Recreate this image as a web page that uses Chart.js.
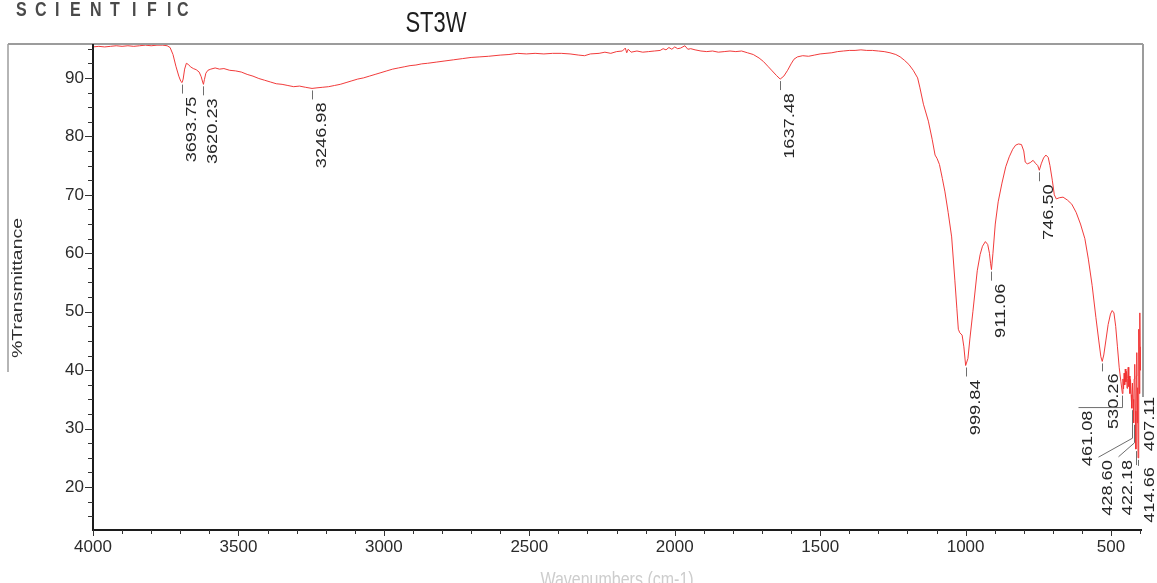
<!DOCTYPE html>
<html>
<head>
<meta charset="utf-8">
<title>ST3W</title>
<script src="https://cdn.jsdelivr.net/npm/chart.js@4.4.1/dist/chart.umd.min.js"></script>
<style>
  html, body { margin: 0; padding: 0; background: #fff; overflow: hidden; }
  canvas { display: block; }
</style>
</head>
<body>
<canvas id="ftir" width="1157" height="583" style="width:1157px;height:583px"></canvas>
<script>
// FTIR spectrum of sample ST3W: wavenumber (cm-1) against % transmittance
const wavenumbers = [
  4000, 3980, 3960, 3940, 3920, 3900, 3880, 3860, 3840, 3820,
  3800, 3780, 3760, 3745, 3735, 3725, 3715, 3705, 3698, 3693.75,
  3690, 3685, 3679, 3672, 3665, 3655, 3645, 3635, 3628, 3623,
  3620.23, 3617, 3612, 3605, 3595, 3580, 3565, 3550, 3530, 3510,
  3490, 3470, 3450, 3430, 3410, 3390, 3370, 3350, 3330, 3310,
  3290, 3270, 3246.98, 3230, 3210, 3190, 3170, 3150, 3130, 3110,
  3090, 3070, 3050, 3030, 3010, 2990, 2970, 2950, 2930, 2910,
  2890, 2870, 2850, 2820, 2790, 2760, 2730, 2700, 2670, 2640,
  2600, 2570, 2540, 2510, 2480, 2450, 2420, 2390, 2360, 2330,
  2310, 2290, 2260, 2240, 2220, 2200, 2180, 2170, 2165, 2160,
  2150, 2130, 2110, 2090, 2070, 2050, 2040, 2030, 2020, 2010,
  2000, 1990, 1980, 1965, 1955, 1945, 1930, 1910, 1890, 1870,
  1850, 1830, 1810, 1790, 1770, 1750, 1730, 1710, 1695, 1680,
  1665, 1650, 1637.48, 1625, 1612, 1600, 1590, 1578, 1560, 1540,
  1520, 1500, 1480, 1460, 1440, 1420, 1400, 1380, 1360, 1340,
  1320, 1300, 1280, 1260, 1240, 1225, 1210, 1195, 1180, 1165,
  1157, 1145, 1128, 1115, 1105, 1098, 1090, 1080, 1071, 1060,
  1048, 1037, 1030, 1025, 1020, 1012, 1006, 999.84, 992, 985,
  975, 960, 950, 942, 932, 924, 918, 914, 911.06, 906,
  898, 888, 875, 862, 850, 838, 828, 818, 808, 800,
  795, 788, 778, 768, 760, 752, 746.5, 740, 732, 724,
  716, 710, 702, 695, 688, 678, 665, 650, 635, 620,
  605, 590, 578, 565, 552, 542, 535, 530.26, 525, 518,
  510, 502, 496, 490, 484, 478, 472, 466, 461.08, 459,
  457, 455, 453, 451, 449, 447, 445, 443, 441, 439,
  437, 435, 433, 431, 428.6, 426.5, 424.5, 422.18, 420.5, 418.5,
  416.5, 414.66, 413, 411.5, 410, 408.5, 407.11, 405.5, 404, 402.5,
  401, 399.5, 398
];

const transmittance = [
  95.3, 95.4, 95.3, 95.4, 95.5, 95.4, 95.5, 95.4, 95.5, 95.6,
  95.5, 95.6, 95.6, 95.5, 95.2, 94.0, 92.0, 90.3, 89.4, 89.2,
  89.8, 91.5, 92.5, 92.3, 91.9, 91.6, 91.4, 91.0, 90.2, 89.3,
  88.9, 89.7, 90.8, 91.3, 91.5, 91.7, 91.5, 91.6, 91.3, 91.2,
  91.0, 90.6, 90.3, 89.9, 89.6, 89.3, 89.0, 88.9, 88.7, 88.5,
  88.6, 88.4, 88.2, 88.3, 88.4, 88.5, 88.7, 88.9, 89.2, 89.5,
  89.8, 90.0, 90.3, 90.6, 90.9, 91.2, 91.5, 91.7, 91.9, 92.1,
  92.2, 92.4, 92.5, 92.7, 92.9, 93.1, 93.3, 93.5, 93.6, 93.7,
  93.9, 94.0, 94.2, 94.1, 94.2, 94.1, 94.2, 94.2, 94.1, 93.9,
  93.8, 94.1, 94.2, 94.4, 94.2, 94.5, 94.6, 95.1, 94.3, 94.9,
  94.4, 94.6, 94.4, 94.5, 94.6, 94.7, 95.0, 94.8, 95.2, 94.9,
  95.3, 95.0, 95.1, 95.5, 94.9, 95.0, 94.8, 94.6, 94.5, 94.6,
  94.4, 94.5, 94.6, 94.5, 94.6, 94.3, 94.0, 93.4, 92.8, 92.0,
  91.2, 90.4, 89.8, 90.3, 91.3, 92.4, 93.2, 93.6, 93.8, 93.7,
  93.9, 94.1, 94.2, 94.3, 94.5, 94.6, 94.7, 94.7, 94.8, 94.7,
  94.7, 94.6, 94.5, 94.3, 94.0, 93.6, 93.0, 92.3, 91.3, 90.0,
  88.3, 85.5, 82.6, 79.5, 76.8, 76.2, 75.2, 72.8, 70.5, 67.0,
  62.8, 55.4, 50.5, 47.0, 46.4, 46.0, 44.0, 40.8, 42.0, 45.5,
  50.0, 57.0, 59.8, 61.2, 62.0, 61.5, 60.0, 58.2, 57.2, 60.0,
  65.0, 68.8, 72.0, 74.8, 76.5, 77.8, 78.5, 78.7, 78.6, 77.5,
  75.6, 75.3, 75.5, 75.9, 75.4, 75.0, 74.2, 75.3, 76.3, 76.8,
  76.4, 75.0, 72.5, 70.0, 69.3, 69.5, 69.6, 69.1, 68.4, 67.0,
  65.0, 62.5, 59.0, 54.5, 49.0, 45.0, 42.3, 41.5, 42.6, 45.0,
  47.8, 49.6, 50.2, 49.8, 47.5, 44.0, 40.5, 38.0, 36.0, 38.5,
  36.8, 39.5, 37.5, 40.2, 38.0, 39.8, 36.9, 38.6, 40.5, 37.2,
  39.0, 36.0, 38.4, 35.8, 33.5, 37.8, 35.0, 31.0, 38.5, 41.0,
  33.0, 26.5, 39.0, 43.0, 31.0, 37.0, 25.0, 42.0, 47.0, 36.0,
  49.8, 40.0, 44.0
];

// Axis tick values
const xTickValues = [4000, 3500, 3000, 2500, 2000, 1500, 1000, 500];
const yTickValues = [20, 30, 40, 50, 60, 70, 80, 90];

// Picked peaks (values must appear in wavenumbers above)
const peakWavenumbers = [3693.75, 3620.23, 3246.98, 1637.48, 999.84, 911.06, 746.50, 530.26, 461.08, 428.60, 422.18, 414.66, 407.11];
const peakLabels = ['3693.75', '3620.23', '3246.98', '1637.48', '999.84', '911.06', '746.50', '530.26', '461.08', '428.60', '422.18', '414.66', '407.11'];

const chartTitle = 'ST3W';
const xAxisTitle = 'Wavenumbers (cm-1)';
const yAxisTitle = '%Transmittance';
const brandText = 'SCIENTIFIC';

// ---- drawing helpers -------------------------------------------------------
const FONT = '"Liberation Sans", Arial, sans-serif';
const STRETCH = 1.3; // printout text is taller than wide

function strokeLine(ctx, pts) {
  ctx.beginPath();
  ctx.moveTo(pts[0][0], pts[0][1]);
  for (let i = 1; i < pts.length; i++) ctx.lineTo(pts[i][0], pts[i][1]);
  ctx.stroke();
}

function tallText(ctx, text, x, y, o) {
  ctx.save();
  ctx.translate(x, y);
  if (o.rotate) { ctx.rotate(-Math.PI / 2); ctx.scale(STRETCH, 1); }
  else { ctx.scale(1, STRETCH); }
  ctx.font = o.font;
  ctx.fillStyle = o.color;
  ctx.textAlign = o.align || 'left';
  ctx.textBaseline = o.baseline || 'alphabetic';
  ctx.fillText(text, 0, 0);
  ctx.restore();
}

// Leader/label placement relative to the peak point, in pixels
const defaultLeader = { path: [[0, 2], [0, 11]], text: [10, 14] };
const leaderLayout = {
  '530.26': { path: [[0, 2], [0, 10]], text: [12, 12] },
  '461.08': { path: [[0, 2], [0, 14], [-44, 14]], text: [-34, 17] },
  '428.60': { path: [[0, 2], [0, 30], [-34, 49]], text: [-24, 52] },
  '422.18': { path: [[0, 2], [0, 20], [-16, 34]], text: [-6, 37] },
  '414.66': { path: [[0, 2], [0, 16]], text: [14, 18] },
  '407.11': { path: [[0, 2], [0, 8]], text: [12, -61] }
};

const decorPlugin = {
  id: 'spectrumDecor',
  beforeDraw(chart) {
    const ctx = chart.ctx;
    ctx.save();
    ctx.fillStyle = '#ffffff';
    ctx.fillRect(0, 0, chart.width, chart.height);
    ctx.restore();
  },
  afterDraw(chart) {
    const { ctx, chartArea: a, scales } = chart;
    const xs = scales.x, ys = scales.y;
    ctx.save();

    // outer frame (grey)
    ctx.strokeStyle = '#9c9c9c';
    ctx.lineWidth = 2;
    strokeLine(ctx, [[8, 44], [a.right + 2, 44]]);
    strokeLine(ctx, [[a.right + 2, 44], [a.right + 2, 397]]);
    ctx.lineWidth = 1.5;
    strokeLine(ctx, [[8, 44], [8, 372]]);

    // axis lines
    ctx.strokeStyle = '#1c1c1c';
    ctx.lineWidth = 2;
    strokeLine(ctx, [[a.left, a.top], [a.left, a.bottom + 1]]);
    strokeLine(ctx, [[a.left - 1, a.bottom], [a.right + 1, a.bottom]]);

    // tick marks: major every 500 / 10, minor every 100 / 2.5
    ctx.lineWidth = 1;
    ctx.strokeStyle = '#333';
    for (let w = 400; w <= 4000; w += 100) {
      const px = Math.round(xs.getPixelForValue(w)) + 0.5;
      const len = w % 500 === 0 ? 6 : 4;
      strokeLine(ctx, [[px, a.bottom], [px, a.bottom + len]]);
    }
    for (let t = 15; t <= 95; t += 2.5) {
      const py = Math.round(ys.getPixelForValue(t)) + 0.5;
      const len = t % 10 === 0 ? 8 : 5;
      strokeLine(ctx, [[a.left - len, py], [a.left, py]]);
    }

    // peak markers and labels
    ctx.strokeStyle = '#6e6e6e';
    ctx.lineWidth = 1;
    peakWavenumbers.forEach((w, i) => {
      const idx = wavenumbers.indexOf(w);
      if (idx < 0) return;
      const label = peakLabels[i];
      const px = xs.getPixelForValue(w);
      const py = ys.getPixelForValue(transmittance[idx]);
      const lay = leaderLayout[label] || defaultLeader;
      const bx = Math.round(px) + 0.5;
      strokeLine(ctx, lay.path.map(p => [bx + p[0], py + p[1]]));
      tallText(ctx, label, px + lay.text[0], py + lay.text[1], {
        rotate: true, font: '14px ' + FONT, color: '#262626', align: 'right', baseline: 'middle'
      });
    });

    // titles
    tallText(ctx, chartTitle, 436, 32, { font: '22px ' + FONT, color: '#1e1e1e', align: 'center' });
    tallText(ctx, yAxisTitle, 18, 288, { rotate: true, font: '15px ' + FONT, color: '#303030', align: 'center', baseline: 'middle' });
    tallText(ctx, xAxisTitle, (a.left + a.right) / 2, 586, { font: '16px ' + FONT, color: '#cdcdcd', align: 'center' });

    // letter-spaced brand heading
    const brandX = [16, 35, 55, 70, 90, 110, 132, 147, 167, 177];
    brandText.split('').forEach((ch, i) => {
      tallText(ctx, ch, brandX[i], 16, { font: 'bold 16px ' + FONT, color: '#4a4a4a' });
    });

    ctx.restore();
  }
};

const tickFont = { family: FONT, size: 17 };
const fixedTicks = values => scale => { scale.ticks = values.map(v => ({ value: v })); };

new Chart(document.getElementById('ftir'), {
  type: 'line',
  data: {
    datasets: [{
      label: chartTitle,
      data: wavenumbers.map((w, i) => ({ x: w, y: transmittance[i] })),
      borderColor: 'rgba(240, 48, 48, 0.95)',
      borderWidth: 1,
      pointRadius: 0,
      tension: 0,
      fill: false
    }]
  },
  options: {
    responsive: false,
    animation: false,
    devicePixelRatio: 1,
    layout: { padding: { left: 0, right: 16, top: 44, bottom: 0 } },
    plugins: {
      legend: { display: false },
      title: { display: false },
      tooltip: { enabled: false }
    },
    scales: {
      x: {
        type: 'linear',
        reverse: true,
        min: 397,
        max: 4000,
        afterBuildTicks: fixedTicks(xTickValues),
        afterFit(scale) { scale.height = 53; },
        grid: { display: false, drawTicks: false },
        border: { display: false },
        ticks: {
          autoSkip: false,
          maxRotation: 0,
          padding: 7,
          color: '#2b2b2b',
          font: tickFont,
          callback: v => String(v)
        }
      },
      y: {
        type: 'linear',
        min: 12.66,
        max: 95.8,
        afterBuildTicks: fixedTicks(yTickValues),
        afterFit(scale) { scale.width = 93; },
        grid: { display: false, drawTicks: false },
        border: { display: false },
        ticks: {
          autoSkip: false,
          padding: 9,
          color: '#2b2b2b',
          font: tickFont,
          callback: v => String(v)
        }
      }
    }
  },
  plugins: [decorPlugin]
});
</script>
</body>
</html>
